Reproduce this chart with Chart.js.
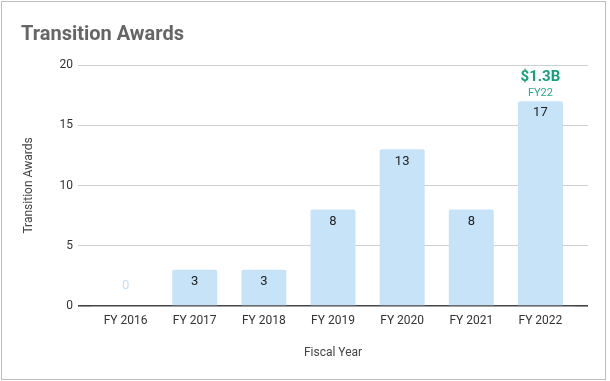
<!DOCTYPE html>
<html>
<head>
<meta charset="utf-8">
<script src="https://cdn.jsdelivr.net/npm/chart.js@4.4.1/dist/chart.umd.min.js"></script>
<style>
  html, body { margin: 0; padding: 0; background: #fff; }
  #wrap { position: relative; width: 610px; height: 381px; }
  #frame { position: absolute; left: 1px; top: 1px; width: 605px; height: 379px; box-sizing: border-box; border: 1px solid #bdbdbd; pointer-events: none; }
  canvas { position: absolute; left: 0; top: 0; }
</style>
</head>
<body>
<div id="wrap">
  <canvas id="c" width="610" height="381"></canvas>
  <div id="frame"></div>
</div>
<script>
const categories = ["FY 2016", "FY 2017", "FY 2018", "FY 2019", "FY 2020", "FY 2021", "FY 2022"];
const awards = [0, 3, 3, 8, 13, 8, 17];
const yTicks = [0, 5, 10, 15, 20];
const annotationMain = "$1.3B";
const annotationSub = "FY22";
const annotationIndex = 6;

const FONT = "Roboto, 'Noto Sans', Arial, sans-serif";
const BAR = "#c6e3f7";
const GREEN = "#14a07a";

const labelPlugin = {
  id: 'barLabels',
  afterDatasetsDraw(chart) {
    const ctx = chart.ctx;
    const meta = chart.getDatasetMeta(0);
    const ds = chart.data.datasets[0].data;
    ctx.save();
    ctx.textAlign = 'center';
    ctx.textBaseline = 'middle';
    meta.data.forEach((bar, i) => {
      const v = ds[i];
      if (v > 0) {
        ctx.fillStyle = '#222';
        ctx.font = "13px " + FONT;
        ctx.fillText(String(v), bar.x, bar.y + 12);
      } else {
        ctx.fillStyle = '#c2dff4';
        ctx.font = "13px " + FONT;
        ctx.fillText(String(v), bar.x, bar.base - 20);
      }
    });
    const ab = meta.data[annotationIndex];
    ctx.fillStyle = GREEN;
    ctx.font = "bold 15px " + FONT;
    ctx.fillText(annotationMain, ab.x, ab.y - 24);
    ctx.fillStyle = "#2aaa88";
    ctx.font = "11px " + FONT;
    ctx.fillText(annotationSub, ab.x, ab.y - 8);
    ctx.restore();
  }
};

const gridColor = (c) => (c.tick && c.tick.value === 0) ? '#444' : '#cfcfcf';
const gridWidth = (c) => (c.tick && c.tick.value === 0) ? 1.6 : 1;

new Chart(document.getElementById('c'), {
  type: 'bar',
  data: {
    labels: categories,
    datasets: [{
      label: 'Transition Awards',
      data: awards,
      backgroundColor: BAR,
      borderRadius: 2,
      borderSkipped: 'bottom',
      categoryPercentage: 1,
      barPercentage: 0.65
    }]
  },
  plugins: [labelPlugin],
  options: {
    responsive: false,
    animation: false,
    devicePixelRatio: 1,
    layout: { padding: { left: 21, right: 22, top: 0, bottom: 0 } },
    plugins: {
      legend: { display: false },
      tooltip: { enabled: false },
      title: {
        display: true,
        text: 'Transition Awards',
        align: 'start',
        color: '#666',
        font: { family: FONT, size: 20, weight: 'bold' },
        padding: { top: 23, bottom: 18 }
      }
    },
    scales: {
      x: {
        grid: { display: false, drawTicks: false },
        border: { display: false },
        ticks: { color: '#333', font: { family: FONT, size: 12 }, padding: 8 },
        title: {
          display: true, text: 'Fiscal Year', color: '#444',
          font: { family: FONT, size: 12 }, padding: { top: 0, bottom: 21 }
        },
        afterFit(s) { s.height = 75; }
      },
      y: {
        min: 0, max: 20,
        afterBuildTicks(s) { s.ticks = yTicks.map(v => ({ value: v })); },
        grid: { color: gridColor, lineWidth: gridWidth, tickColor: gridColor, tickLength: 13 },
        border: { display: false },
        ticks: { color: '#333', font: { family: FONT, size: 12 }, padding: 5 },
        title: {
          display: true, text: 'Transition Awards', color: '#444',
          font: { family: FONT, size: 12 }, padding: { top: 1, bottom: 0 }
        },
        afterFit(s) { s.width = 70; }
      },
      y2: {
        position: 'right',
        min: 0, max: 20,
        afterBuildTicks(s) { s.ticks = yTicks.map(v => ({ value: v })); },
        grid: { drawOnChartArea: false, color: gridColor, lineWidth: gridWidth, tickColor: gridColor, tickLength: 13 },
        border: { display: false },
        ticks: { display: false },
        afterFit(s) { s.width = 13; }
      }
    }
  }
});
</script>
</body>
</html>
